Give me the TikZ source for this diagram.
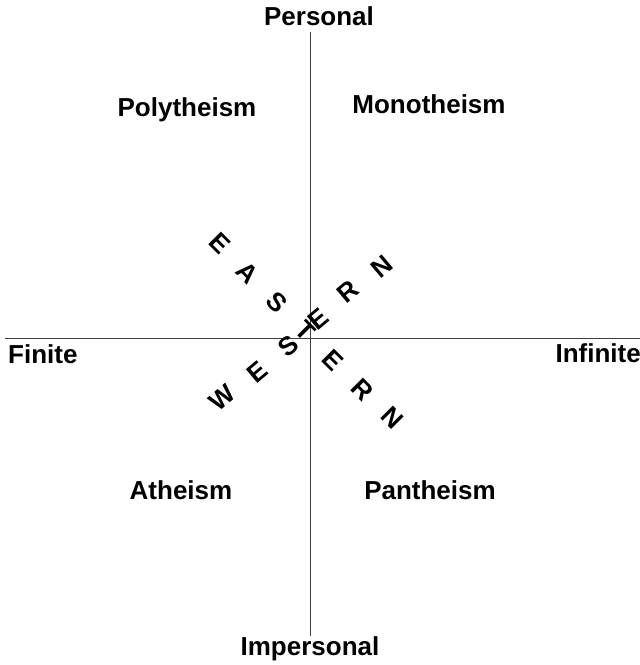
\documentclass[tikz,border=0pt]{standalone}
\usepackage{fontspec}
\setmainfont{Liberation Sans}
\begin{document}
\begin{tikzpicture}[x=1bp,y=-1bp,
  lbl/.style={inner sep=0pt,font=\fontsize{26bp}{30bp}\selectfont\bfseries,anchor=base},
  ltr/.style={inner sep=0pt,font=\fontsize{26bp}{30bp}\selectfont\bfseries,anchor=center},
  axis/.style={draw=black!75,line width=0.9bp}]
\useasboundingbox (0,0) rectangle (640,665);
\coordinate (vt) at (310,32);
\coordinate (vb) at (310,636);
\coordinate (hl) at (5,338);
\coordinate (hr) at (640,338);
\draw[axis] (vt) -- (vb);
\draw[axis] (hl) -- (hr);
\node[lbl] (personal) at (319,26) {Personal};
\node[lbl] (impersonal) at (310,655) {Impersonal};
\node[lbl,anchor=base west] (finite) at (8,363) {Finite};
\node[lbl,anchor=base east] (infinite) at (641,362) {Infinite};
\node[lbl] (poly) at (187,117) {Polytheism};
\node[lbl] (mono) at (429,114) {Monotheism};
\node[lbl] (athe) at (181,499) {Atheism};
\node[lbl] (pant) at (430,499) {Pantheism};
% EASTERN
\node[ltr,rotate=-45] (e1) at (220,243) {E};
\node[ltr,rotate=-45] (e2) at (247,273) {A};
\node[ltr,rotate=-45] (e3) at (277,302) {S};
\node[ltr,rotate=-45] (e4) at (305,331) {T};
\node[ltr,rotate=-45] (e5) at (333,360) {E};
\node[ltr,rotate=-45] (e6) at (362,390) {R};
\node[ltr,rotate=-45] (e7) at (392,418) {N};
% WESTERN
\node[ltr,rotate=40] (w1) at (222,398) {W};
\node[ltr,rotate=40] (w2) at (257,372) {E};
\node[ltr,rotate=40] (w3) at (288,346) {S};
\node[ltr,rotate=40] (w5) at (318,319) {E};
\node[ltr,rotate=40] (w6) at (348,292) {R};
\node[ltr,rotate=40] (w7) at (382,267) {N};
\end{tikzpicture}
\end{document}
